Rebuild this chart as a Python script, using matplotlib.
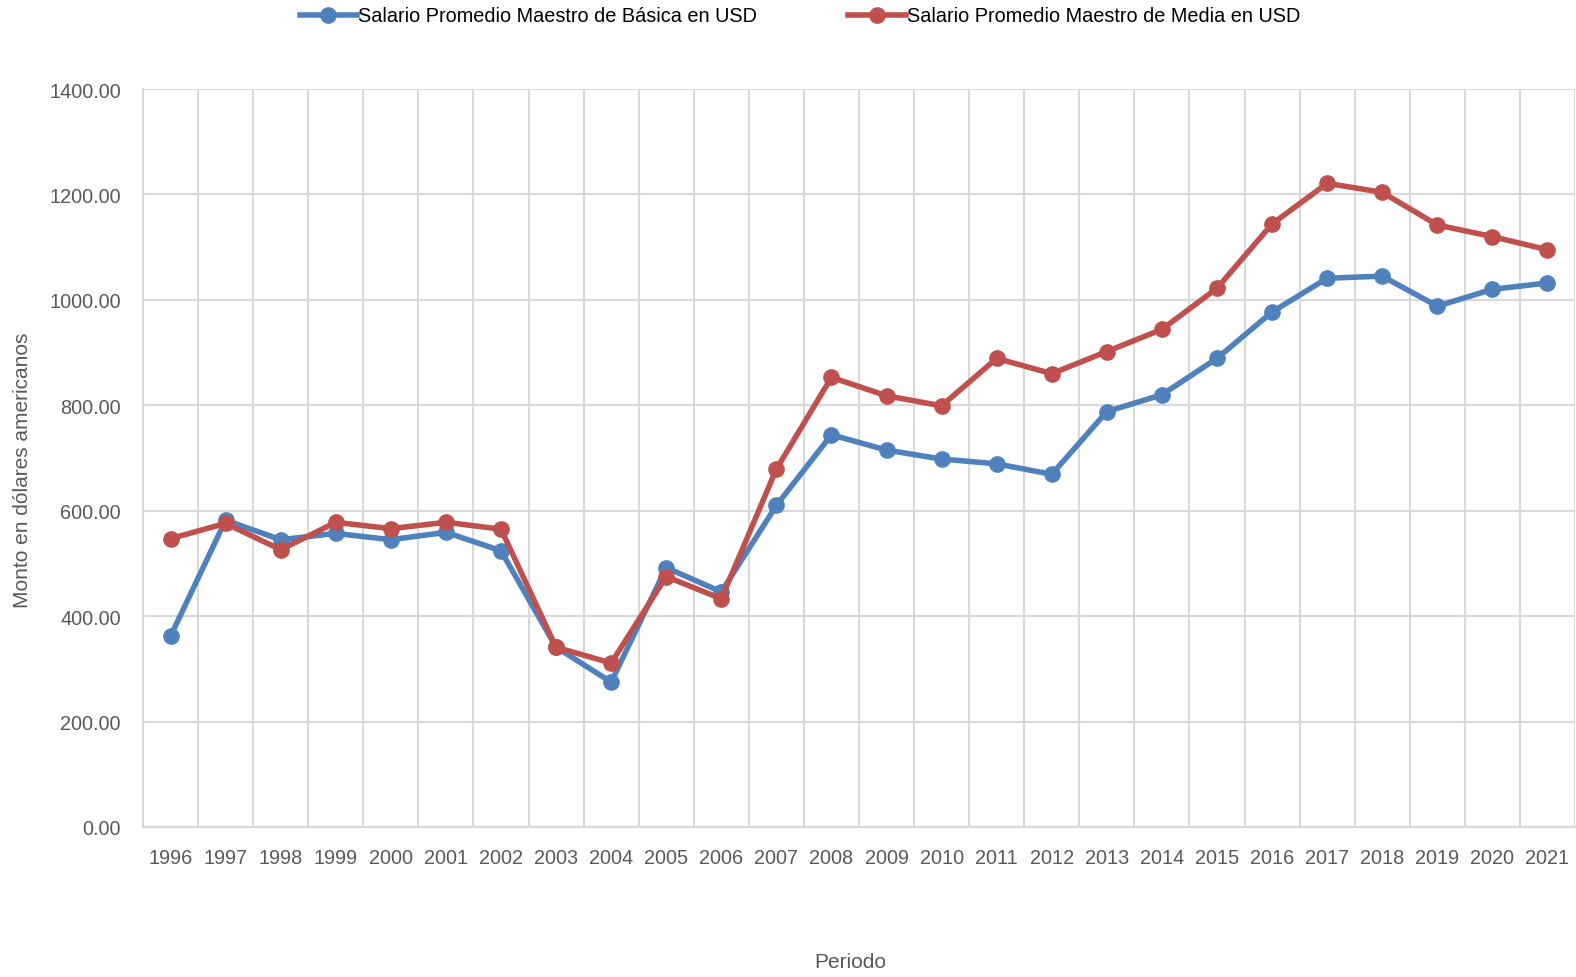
import matplotlib
matplotlib.use("Agg")
import matplotlib.pyplot as plt
import numpy as np

years = [str(y) for y in range(1996, 2022)]
basica = [362, 582, 545, 557, 545, 559, 524, 341, 275, 492, 446, 610, 744, 715,
          698, 689, 669, 788, 820, 889, 977, 1041, 1045, 988, 1020, 1032]
media = [547, 576, 526, 578, 566, 578, 565, 341, 311, 475, 433, 679, 853, 818,
         799, 889, 860, 902, 944, 1022, 1144, 1221, 1204, 1142, 1120, 1095]
series_names = ["Salario Promedio Maestro de Básica en USD",
                "Salario Promedio Maestro de Media en USD"]
yticks = [0, 200, 400, 600, 800, 1000, 1200, 1400]

plt.rcParams['font.family'] = ['Liberation Sans', 'DejaVu Sans']
txt = '#595959'
grid = '#D9D9D9'
fs = 14.3

W, H = 1576, 978
fig = plt.figure(figsize=(W / 100, H / 100), dpi=100)
ax = fig.add_axes([143 / W, 1 - 828 / H, (1575 - 143) / W, (828 - 90) / H])

x = np.arange(len(years))
ax.plot(x, basica, color='#4F81BD', lw=4, marker='o', ms=11, label=series_names[0],
        solid_joinstyle='round', zorder=3)
ax.plot(x, media, color='#C0504D', lw=4, marker='o', ms=11, label=series_names[1],
        solid_joinstyle='round', zorder=4)

ax.set_xlim(-0.5, len(years) - 0.5)
ax.set_ylim(0, 1400)
ax.set_yticks(yticks)
ax.set_yticklabels([f"{v:.2f}" for v in yticks])
ax.set_xticks(x)
ax.set_xticklabels(years)
ax.set_xticks(np.arange(-0.5, len(years)), minor=True)
ax.tick_params(axis='x', which='both', length=0, pad=15, labelsize=fs, labelcolor=txt)
ax.tick_params(axis='y', length=0, pad=16, labelsize=fs, labelcolor=txt)
ax.grid(axis='x', which='minor', color=grid, lw=1.5)
ax.grid(axis='y', which='major', color=grid, lw=1.5)
ax.grid(axis='x', which='major', visible=False)
ax.set_axisbelow(True)
for s in ['top', 'right']:
    ax.spines[s].set_visible(False)
for s in ['left', 'bottom']:
    ax.spines[s].set_color(grid)
    ax.spines[s].set_linewidth(1.5)

fig.text(23 / W, 1 - 470 / H, "Monto en dólares americanos", rotation=90,
         ha='center', va='center', fontsize=fs + 0.7, color=txt)
fig.text(850 / W, 1 - 963 / H, "Periodo", ha='center', va='center', fontsize=fs + 0.7, color=txt)

fig.legend(loc='center', bbox_to_anchor=(800 / W, 1 - 17 / H), ncol=2, frameon=False,
           fontsize=fs, handlelength=2.9, handletextpad=0.05, columnspacing=4.6,
           labelcolor='black')

fig.savefig("out.png", dpi=100)
